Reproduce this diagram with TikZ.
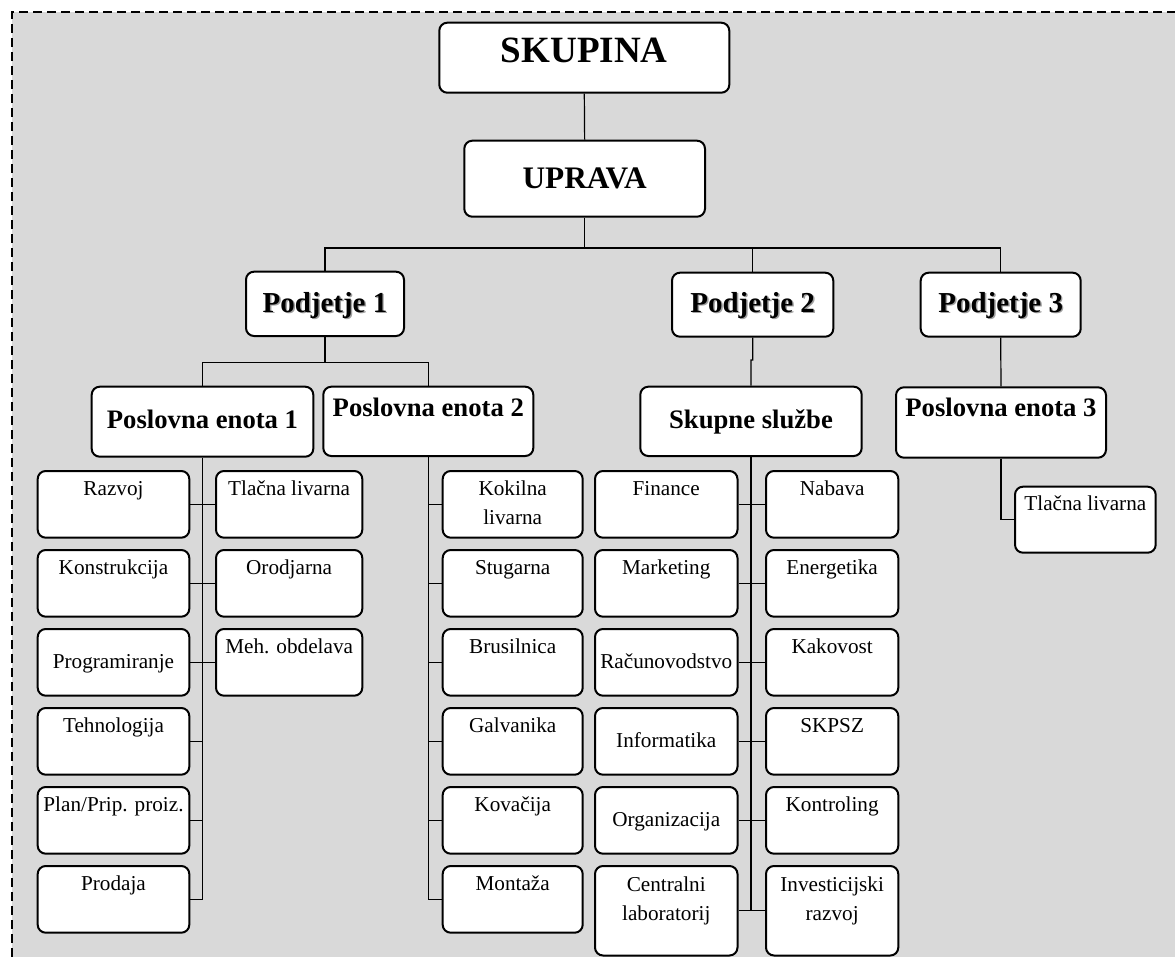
\documentclass[tikz,border=0pt]{standalone}
\usepackage{fontspec}
\setmainfont{Liberation Serif}
\definecolor{panel}{HTML}{D9D9D9}
\definecolor{shadowgray}{HTML}{A0A0A0}
% bold heading with a soft grey drop shadow
\newcommand\shadowtxt[1]{\makebox[0pt][l]{\kern1.1pt\raisebox{-1.1pt}{\textcolor{shadowgray}{#1}}}#1}
% #1 name, #2 left, #3 top, #4 right, #5 bottom, #6 text style, #7 text y, #8 text
\newcommand\orgbox[8]{%
  \node[box, minimum width={(#4-#2)*0.75pt}, minimum height={(#5-#3)*0.75pt}] (#1) at ({(#2+#4)/2},{(#3+#5)/2}) {};
  \node[#6] (#1-t) at ({(#2+#4)/2},#7) {#8};%
}
\begin{document}
\begin{tikzpicture}[x=0.75pt,y=-0.75pt,
  box/.style={draw, fill=white, line width=1.5pt, rounded corners=6pt, inner sep=0pt, rectangle},
  conn/.style={line width=0.9pt},
  frame/.style={line width=1pt, dash pattern=on 6.75pt off 3.75pt},
  tsmall/.style={inner sep=0pt, anchor=base, font=\fontsize{15.9}{22}\selectfont},
  ttwo/.style={inner sep=0pt, anchor=center, align=center, font=\fontsize{15.9}{22}\selectfont},
  tskupina/.style={inner sep=0pt, anchor=base, font=\fontsize{27.8}{32}\selectfont\bfseries},
  tuprava/.style={inner sep=0pt, anchor=base, font=\fontsize{23.5}{28}\selectfont\bfseries},
  tpodj/.style={inner sep=0pt, anchor=base, font=\fontsize{21.7}{26}\selectfont\bfseries},
  tunit/.style={inner sep=0pt, anchor=base, font=\fontsize{20}{24}\selectfont\bfseries}]

\useasboundingbox (0,0) rectangle (1175,957);
\fill[panel] (12,12) rectangle (1175,957);
\draw[frame] (12,957) -- (12,12) -- (1175,12);

% top levels
\orgbox{skupina}{439.3}{22.7}{729.3}{92.7}{tskupina}{62.7}{SKUPINA}
\orgbox{uprava}{464.3}{140.7}{705}{216.7}{tuprava}{188.3}{UPRAVA}
\orgbox{p1}{246}{271.7}{404}{336}{tpodj}{312}{\shadowtxt{Podjetje 1}}
\orgbox{p2}{672}{272.7}{833.3}{336.7}{tpodj}{312}{\shadowtxt{Podjetje 2}}
\orgbox{p3}{920.7}{272.7}{1080.7}{336.7}{tpodj}{312}{\shadowtxt{Podjetje 3}}
\orgbox{pe1}{91.7}{386.7}{313.3}{456.7}{tunit}{428.3}{Poslovna enota 1}
\orgbox{pe2}{323.3}{386.7}{533.3}{456}{tunit}{416}{Poslovna enota 2}
\orgbox{ss}{640.3}{386.7}{861.7}{456}{tunit}{428.3}{Skupne službe}
\orgbox{pe3}{896}{387.3}{1106}{457.7}{tunit}{416.7}{Poslovna enota 3}
\orgbox{tl3}{1015}{486.7}{1155.7}{552.7}{tsmall}{510}{Tlačna livarna}

% Poslovna enota 1
\orgbox{razvoj}{37.7}{471}{189.3}{537.7}{tsmall}{495}{Razvoj}
\orgbox{konstr}{37.7}{550}{189.3}{616.7}{tsmall}{574}{Konstrukcija}
\orgbox{program}{37.7}{629}{189.3}{695.7}{tsmall}{668}{Programiranje}
\orgbox{tehno}{37.7}{708}{189.3}{774.7}{tsmall}{732}{Tehnologija}
\orgbox{plan}{37.7}{787}{189.3}{853.7}{tsmall}{811}{Plan/Prip. proiz.}
\orgbox{prodaja}{37.7}{866}{189.3}{932.7}{tsmall}{890}{Prodaja}
\orgbox{tlacna}{216}{471}{362.3}{537.7}{tsmall}{495}{Tlačna livarna}
\orgbox{orodjarna}{216}{550}{362.3}{616.7}{tsmall}{574}{Orodjarna}
\orgbox{meh}{216}{629}{362.3}{695.7}{tsmall}{653}{Meh. obdelava}

% Poslovna enota 2
\orgbox{kokilna}{442.7}{471}{582.7}{537.7}{ttwo}{503}{Kokilna\\livarna}
\orgbox{stugarna}{442.7}{550}{582.7}{616.7}{tsmall}{574}{Stugarna}
\orgbox{brusilnica}{442.7}{629}{582.7}{695.7}{tsmall}{653}{Brusilnica}
\orgbox{galvanika}{442.7}{708}{582.7}{774.7}{tsmall}{732}{Galvanika}
\orgbox{kovacija}{442.7}{787}{582.7}{853.7}{tsmall}{811}{Kovačija}
\orgbox{montaza}{442.7}{866}{582.7}{932.7}{tsmall}{890}{Montaža}

% Skupne službe
\orgbox{finance}{595}{471}{737.5}{537.7}{tsmall}{495}{Finance}
\orgbox{marketing}{595}{550}{737.5}{616.7}{tsmall}{574}{Marketing}
\orgbox{racun}{595}{629}{737.5}{695.7}{tsmall}{668}{Računovodstvo}
\orgbox{informatika}{595}{708}{737.5}{774.7}{tsmall}{747}{Informatika}
\orgbox{organizacija}{595}{787}{737.5}{853.7}{tsmall}{826}{Organizacija}
\orgbox{centralni}{595}{866}{737.5}{955.5}{ttwo}{901}{Centralni\\laboratorij}
\orgbox{nabava}{766}{471}{898.3}{537.7}{tsmall}{495}{Nabava}
\orgbox{energetika}{766}{550}{898.3}{616.7}{tsmall}{574}{Energetika}
\orgbox{kakovost}{766}{629}{898.3}{695.7}{tsmall}{653}{Kakovost}
\orgbox{skpsz}{766}{708}{898.3}{774.7}{tsmall}{732}{SKPSZ}
\orgbox{kontroling}{766}{787}{898.3}{853.7}{tsmall}{811}{Kontroling}
\orgbox{invest}{766}{866}{898.3}{955.5}{ttwo}{901}{Investicijski\\razvoj}

% connectors: group level
\coordinate (bus) at (584.5,248);
\draw[conn] (skupina.south) -- (uprava.north);
\draw[conn] (uprava.south) -- (uprava.south |- bus);
\draw[conn] (p1.north) |- (bus) -| (p3.north);
\draw[conn] (p2.north) -- (p2.north |- bus);

% companies to units
\coordinate (p1bus) at (325,362.3);
\draw[conn] (p1.south) -- (p1bus);
\draw[conn] (pe1.north) |- (p1bus) -| (pe2.north);
\coordinate (p2jog) at (752.7,360);
\draw[conn] (p2.south) -- (p2jog) -| (ss.north);
\draw[conn] (p3.south) -- (pe3.north);
\draw[conn] (pe3.south) |- (tl3.west);

% Poslovna enota 1 departments
\draw[conn] (pe1.south) |- (prodaja.east);
\draw[conn] (razvoj.east) -- (tlacna.west);
\draw[conn] (konstr.east) -- (orodjarna.west);
\draw[conn] (program.east) -- (meh.west);
\draw[conn] (tehno.east) -- (tehno.east -| pe1.south);
\draw[conn] (plan.east) -- (plan.east -| pe1.south);

% Poslovna enota 2 departments
\draw[conn] (pe2.south) |- (montaza.west);
\foreach \n in {kokilna,stugarna,brusilnica,galvanika,kovacija}
  \draw[conn] (\n.west) -- (\n.west -| pe2.south);

% Skupne službe departments
\draw[conn] (ss.south) -- (ss.south |- centralni.east);
\draw[conn] (finance.east) -- (nabava.west);
\draw[conn] (marketing.east) -- (energetika.west);
\draw[conn] (racun.east) -- (kakovost.west);
\draw[conn] (informatika.east) -- (skpsz.west);
\draw[conn] (organizacija.east) -- (kontroling.west);
\draw[conn] (centralni.east) -- (invest.west);
\end{tikzpicture}
\end{document}
